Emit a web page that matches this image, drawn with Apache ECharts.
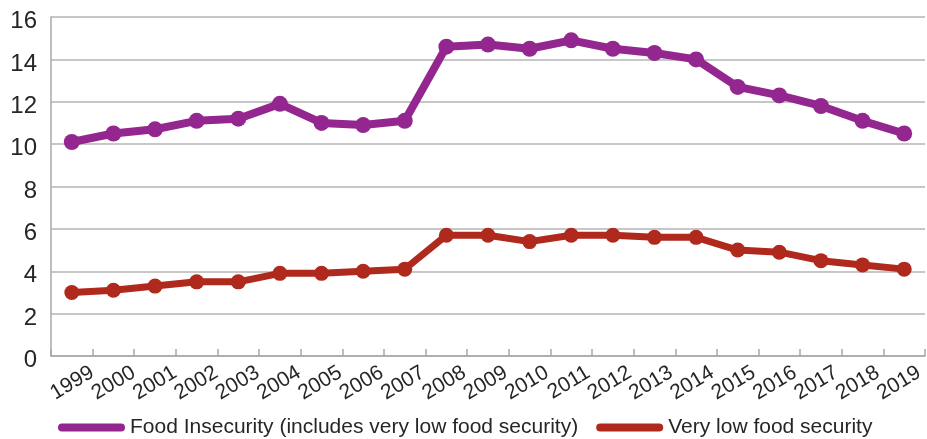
<!DOCTYPE html>
<html>
<head>
<meta charset="utf-8">
<script src="https://cdn.jsdelivr.net/npm/echarts@6/dist/echarts.min.js"></script>
<style>
  html, body { margin: 0; padding: 0; background: #ffffff; }
  #chart { width: 927px; height: 439px; }
</style>
</head>
<body>
<div id="chart"></div>
<script>
// Survey years
const years = ['1999', '2000', '2001', '2002', '2003', '2004', '2005', '2006', '2007', '2008',
  '2009', '2010', '2011', '2012', '2013', '2014', '2015', '2016', '2017', '2018', '2019'];

// Share of households (%)
const foodInsecurity = [10.1, 10.5, 10.7, 11.1, 11.2, 11.9, 11.0, 10.9, 11.1, 14.6,
  14.7, 14.5, 14.9, 14.5, 14.3, 14.0, 12.7, 12.3, 11.8, 11.1, 10.5];
const veryLowFoodSecurity = [3.0, 3.1, 3.3, 3.5, 3.5, 3.9, 3.9, 4.0, 4.1, 5.7,
  5.7, 5.4, 5.7, 5.7, 5.6, 5.6, 5.0, 4.9, 4.5, 4.3, 4.1];

const seriesNames = ['Food Insecurity (includes very low food security)', 'Very low food security'];

const textColor = '#262626';
const axisColor = '#a8a8a8';
const fontFamily = '"Liberation Sans", Arial, sans-serif';
const gridBox = { left: 51, right: 2, top: 17, bottom: 83 };

// Pill-shaped legend marker
const pillIcon = 'path://M4,0 L63,0 A4,4 0 0 1 63,8 L4,8 A4,4 0 0 1 4,0 Z';

const chart = echarts.init(document.getElementById('chart'), null, { renderer: 'canvas' });

chart.setOption({
  animation: false,
  textStyle: { fontFamily: fontFamily },
  grid: [
    Object.assign({ containLabel: false }, gridBox),
    Object.assign({ containLabel: false }, gridBox)
  ],
  legend: {
    left: 58,
    top: 417,
    padding: 0,
    itemWidth: 67,
    itemHeight: 8,
    itemGap: 18,
    icon: pillIcon,
    textStyle: { fontSize: 21, color: textColor, fontFamily: fontFamily },
    data: seriesNames
  },
  xAxis: [
    {
      type: 'category',
      gridIndex: 0,
      data: years,
      boundaryGap: true,
      axisLine: { show: true, lineStyle: { color: axisColor, width: 1.5 } },
      axisTick: { show: true, inside: true, length: 7, interval: 0, lineStyle: { color: axisColor, width: 1.5 } },
      axisLabel: { show: false },
      splitLine: { show: false }
    },
    {
      // Year labels sit on the category boundaries, so they live on a 0..N value scale
      type: 'value',
      gridIndex: 1,
      min: 0,
      max: years.length,
      interval: 1,
      axisLine: { show: false },
      axisTick: { show: false },
      splitLine: { show: false },
      axisLabel: {
        rotate: 31,
        margin: 15,
        fontSize: 21,
        color: textColor,
        fontFamily: fontFamily,
        showMinLabel: true,
        showMaxLabel: true,
        formatter: function (v) { return v >= 1 ? years[v - 1] : ''; }
      }
    }
  ],
  yAxis: [
    {
      type: 'value',
      gridIndex: 0,
      min: 0,
      max: 16,
      interval: 2,
      axisLine: { show: true, lineStyle: { color: axisColor, width: 1.5 } },
      axisTick: { show: false },
      splitLine: { show: true, lineStyle: { color: '#b4b4b4', width: 1.5 } },
      // Numbers sit slightly below their gridlines
      axisLabel: {
        fontSize: 24, margin: 14, verticalAlign: 'top', lineHeight: 9,
        color: textColor, fontFamily: fontFamily
      }
    },
    {
      type: 'value',
      gridIndex: 1,
      min: 0,
      max: 16,
      show: false
    }
  ],
  series: [
    {
      name: seriesNames[0],
      type: 'line',
      xAxisIndex: 0,
      yAxisIndex: 0,
      data: foodInsecurity,
      symbol: 'circle',
      symbolSize: 16,
      itemStyle: { color: '#93278f' },
      lineStyle: { color: '#93278f', width: 8 }
    },
    {
      name: seriesNames[1],
      type: 'line',
      xAxisIndex: 0,
      yAxisIndex: 0,
      data: veryLowFoodSecurity,
      symbol: 'circle',
      symbolSize: 15,
      itemStyle: { color: '#b0291d' },
      lineStyle: { color: '#b0291d', width: 7 }
    }
  ]
});
</script>
</body>
</html>
